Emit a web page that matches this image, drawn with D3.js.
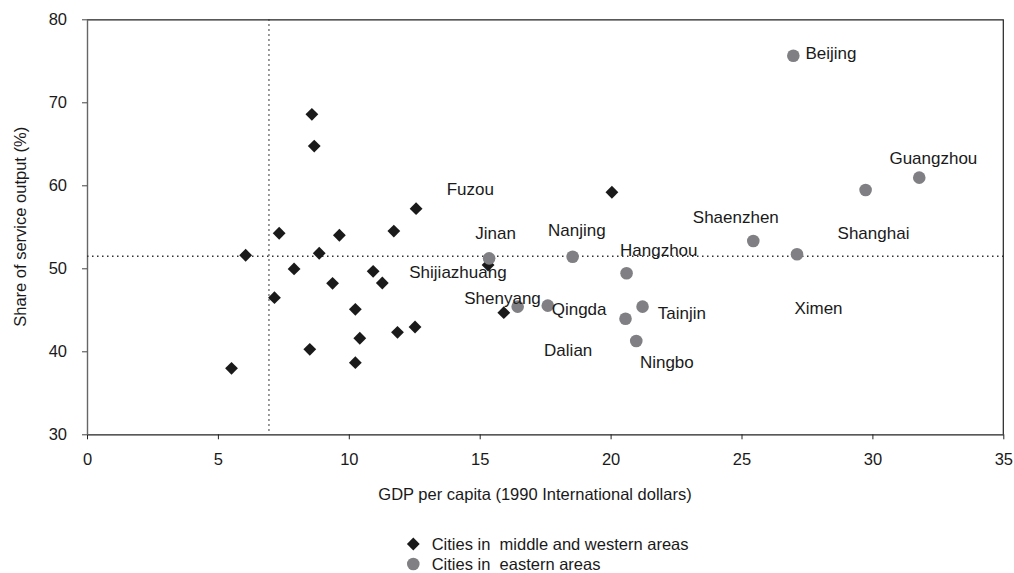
<!DOCTYPE html>
<html>
<head>
<meta charset="utf-8">
<script src="https://cdn.jsdelivr.net/npm/d3@7"></script>
<style>
  html, body { margin: 0; padding: 0; background: #fff; overflow: hidden; }
  svg { display: block; font-family: "Liberation Sans", Arial, sans-serif; overflow: visible; }
  text { fill: #1a1a1a; }
</style>
</head>
<body>
<div id="chart"></div>
<script>
// Cities in middle and western areas: [GDP per capita, service share]
const westGdp = [8.59, 8.68, 12.57, 7.34, 9.64, 11.72, 6.06, 8.87, 7.91, 10.93, 11.28, 9.38,
  7.16, 10.25, 11.86, 12.53, 10.42, 8.51, 10.25, 5.52, 20.05, 15.32, 15.92];
const westShare = [68.55, 64.73, 57.18, 54.22, 53.98, 54.49, 51.57, 51.81, 49.92, 49.64, 48.23, 48.19,
  46.46, 45.06, 42.29, 42.93, 41.57, 40.24, 38.63, 37.95, 59.16, 50.4, 44.65];

// Cities in eastern areas
const eastGdp = [15.36, 18.55, 20.61, 16.45, 17.6, 21.22, 20.57, 20.98, 26.98, 31.79, 29.74, 25.45, 27.12];
const eastShare = [51.2, 51.4, 49.4, 45.38, 45.5, 45.38, 43.93, 41.24, 75.6, 60.92, 59.43, 53.29, 51.69];

// City name annotations, placed at data coordinates (left edge, middle)
const labelNames = ["Beijing", "Guangzhou", "Shaenzhen", "Shanghai", "Ximen", "Tainjin", "Ningbo",
  "Dalian", "Qingda", "Shenyang", "Shijiazhuang", "Jinan", "Nanjing", "Hangzhou", "Fuzou"];
const labelGdp = [27.44, 30.65, 23.14, 28.67, 27.02, 21.8, 21.12, 17.46, 17.75, 14.41, 12.31, 14.83, 17.61, 20.36, 13.74];
const labelShare = [75.98, 63.33, 56.14, 54.22, 45.18, 44.58, 38.75, 40.16, 45.06, 46.46, 49.52, 54.22, 54.61, 52.2, 59.52];

const xTicks = [0, 5, 10, 15, 20, 25, 30, 35];
const yTicks = [30, 40, 50, 60, 70, 80];
const gdpSplit = 6.95;
const shareSplit = 51.45;

const width = 1014;
const height = 573;
const margin = { top: 19.3, right: 10.7, bottom: 138.7, left: 87 };
const innerWidth = width - margin.left - margin.right;
const innerHeight = height - margin.top - margin.bottom;

const svg = d3.select("#chart")
  .append("svg")
  .attr("width", width)
  .attr("height", height)
  .attr("viewBox", `0 0 ${width} ${height}`);

const g = svg.append("g")
  .attr("transform", `translate(${margin.left},${margin.top})`);

const x = d3.scaleLinear().domain([0, 35]).range([0, innerWidth]);
const y = d3.scaleLinear().domain([30, 80]).range([innerHeight, 0]);

// frame (top and right)
g.append("path")
  .attr("d", `M0,0.5H${innerWidth}V${innerHeight}`)
  .attr("fill", "none")
  .attr("stroke", "#222")
  .attr("stroke-width", 1.2);

// axes
const xAxis = d3.axisBottom(x).tickValues(xTicks).tickSize(5).tickPadding(14).tickSizeOuter(0);
const yAxis = d3.axisLeft(y).tickValues(yTicks).tickSize(5).tickPadding(15).tickSizeOuter(0);

const gx = g.append("g")
  .attr("transform", `translate(0,${innerHeight})`)
  .call(xAxis);
const gy = g.append("g").call(yAxis);

[gx, gy].forEach((a) => {
  a.selectAll("text")
    .attr("font-size", 16.5)
    .attr("font-family", "Liberation Sans, Arial, sans-serif")
    .attr("fill", "#1a1a1a");
});
gx.select(".domain").attr("stroke", "#222").attr("stroke-width", 1.2);
gx.selectAll(".tick line").attr("stroke", "#222");
gy.select(".domain").attr("stroke", "#666").attr("stroke-width", 1.4);
gy.selectAll(".tick line").attr("stroke", "#444");

// guide lines
g.append("line")
  .attr("x1", x(gdpSplit)).attr("x2", x(gdpSplit))
  .attr("y1", 0).attr("y2", innerHeight)
  .attr("stroke", "#333")
  .attr("stroke-width", 1.3)
  .attr("stroke-dasharray", "1.5 3.5");

g.append("line")
  .attr("x1", 0).attr("x2", innerWidth)
  .attr("y1", y(shareSplit)).attr("y2", y(shareSplit))
  .attr("stroke", "#333")
  .attr("stroke-width", 1.3)
  .attr("stroke-dasharray", "1.5 3.5");

// axis titles
g.append("text")
  .attr("x", 535 - margin.left)
  .attr("y", innerHeight + 66)
  .attr("text-anchor", "middle")
  .attr("font-size", 16.5)
  .text("GDP per capita (1990 International dollars)");

g.append("text")
  .attr("transform", "rotate(-90)")
  .attr("x", -innerHeight / 2)
  .attr("y", -67)
  .attr("dy", "0.35em")
  .attr("text-anchor", "middle")
  .attr("font-size", 16.5)
  .text("Share of service output (%)");

const diamond = d3.symbol().type(d3.symbolSquare).size(82);
const westData = westGdp.map((v, i) => ({ gdp: v, share: westShare[i] }));
const eastData = eastGdp.map((v, i) => ({ gdp: v, share: eastShare[i] }));

g.append("g")
  .selectAll("path")
  .data(westData)
  .join("path")
  .attr("d", diamond)
  .attr("transform", (d) => `translate(${x(d.gdp)},${y(d.share)}) rotate(45)`)
  .attr("fill", "#1a1a1a");

g.append("g")
  .selectAll("circle")
  .data(eastData)
  .join("circle")
  .attr("cx", (d) => x(d.gdp))
  .attr("cy", (d) => y(d.share))
  .attr("r", 6.3)
  .attr("fill", "#808084");

// city labels
g.append("g")
  .selectAll("text")
  .data(labelNames)
  .join("text")
  .attr("x", (d, i) => x(labelGdp[i]))
  .attr("y", (d, i) => y(labelShare[i]))
  .attr("dy", "0.35em")
  .attr("font-size", 17)
  .text((d) => d);

// legend
const legend = svg.append("g").attr("transform", "translate(413.3,544)");
legend.append("path")
  .attr("d", diamond)
  .attr("transform", "rotate(45)")
  .attr("fill", "#1a1a1a");
legend.append("text")
  .attr("x", 18.4)
  .attr("dy", "0.35em")
  .attr("font-size", 16.5)
  .style("white-space", "pre")
  .text("Cities in  middle and western areas");
legend.append("circle")
  .attr("cy", 20)
  .attr("r", 6.3)
  .attr("fill", "#808084");
legend.append("text")
  .attr("x", 18.4)
  .attr("y", 20)
  .attr("dy", "0.35em")
  .attr("font-size", 16.5)
  .style("white-space", "pre")
  .text("Cities in  eastern areas");
</script>
</body>
</html>
